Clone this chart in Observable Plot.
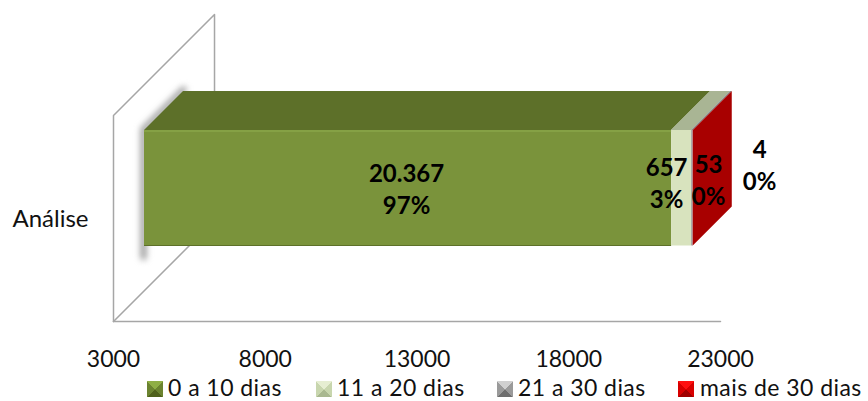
<!DOCTYPE html>
<html><head><meta charset="utf-8">
<script src="https://cdn.jsdelivr.net/npm/d3@7"></script>
<script src="https://cdn.jsdelivr.net/npm/@observablehq/plot@0.6"></script>
<style>
html,body{margin:0;padding:0;background:#fff;overflow:hidden}
body{width:868px;height:401px;font-family:Lato,sans-serif;color:#111}
svg{display:block}
#legend{position:relative;height:26px;font-size:23px;letter-spacing:.45px;line-height:22px}
#legend span.i{position:absolute;top:1px;white-space:nowrap;display:flex;align-items:center}
#legend b{display:inline-block;width:16px;height:16px;flex:none;position:relative;top:2px}
</style></head><body>
<div id="chart"></div><div id="legend"></div>
<script>
const categories = ["0 a 10 dias","11 a 20 dias","21 a 30 dias","mais de 30 dias"];
const values = [20367,657,53,4];
const frontColors = ["#7a933b","#d8e3be","#a8a8a8","#a80000"];
const topColors = ["#5d7029","#a9b594","#808080","#a9b594"];
const swatchDark = ["#4f611c","#a9b890","#6e6e6e","#a00000"];
const swatchMid = ["#6b8330","#c8d6ae","#9a9a9a","#d80000"];
const swatchCore = ["#8fae45","#e6eed2","#d0d0d0","#ff1010"];
const legendLeft = [147,316,497,678];
const legendGap = [5,5,5,6];
const labelLines = [["20.367","97%"],["657","3%"],["53","0%"],["4","0%"]];
const labelCenterX = [406,666,708,759];
const labelCenterY = [187.5,181.5,178.5,163];
const ticks = [3000,8000,13000,18000,23000];
const start = 3000;
const pxPerUnit = 606.9/20000;
const frontDepth = 31, backDepth = 70, wallDepth = 101, wallH = 206;
const barBottom = 44.5, barTop = 160;
const px = (v,d)=>v + d/pxPerUnit;
const up = (h,d)=>h + d;

let acc = 0;
const segs = values.map((v,i)=>{const s={cat:categories[i],x0:Math.max(acc,start),x1:acc+v,i};acc+=v;return s;});
const end = acc;

const wall = [[start,0,0],[start,wallH,0],[start,wallH,wallDepth],[start,0,wallDepth]]
  .map(([x,h,d])=>({x:px(x,d),y:up(h,d)}));
const floorDiag = [0,wallDepth].map(d=>({x:px(start,d),y:up(0,d)}));
const floorLine = [start,23000].map(x=>({x,y:0}));
const shadow = [[start,barBottom-12,frontDepth],[start,barTop,frontDepth],[start,barTop,backDepth+1]]
  .map(([x,h,d])=>({x:px(x,d)-1/pxPerUnit,y:up(h,d)+1}));

const marks = [
  Plot.line(wall,{x:"x",y:"y",stroke:"#a6a6a6",strokeWidth:1.5}),
  Plot.line(floorDiag,{x:"x",y:"y",stroke:"#a6a6a6",strokeWidth:1.5}),
  Plot.line(floorLine,{x:"x",y:"y",stroke:"#a6a6a6",strokeWidth:1.5}),
  Plot.line(shadow,{x:"x",y:"y",stroke:"#999",strokeWidth:6,imageFilter:"blur(3px)"})
];
segs.forEach(s=>{
  marks.push(Plot.areaX([frontDepth,backDepth].map(d=>({d})),{
    y:p=>up(barTop,p.d),x1:p=>px(s.x0,p.d),x2:p=>px(s.x1,p.d),fill:topColors[s.i],curve:"linear"}));
  marks.push(Plot.rect([s],{x1:d=>px(d.x0,frontDepth),x2:d=>px(d.x1,frontDepth),
    y1:up(barBottom,frontDepth),y2:up(barTop,frontDepth),fill:frontColors[s.i]}));
});
marks.push(Plot.areaY([frontDepth,backDepth].map(d=>({d})),{
  x:p=>px(end,p.d),y1:p=>up(barBottom,p.d),y2:p=>up(barTop,p.d),fill:"#a80000",curve:"linear"}));
marks.push(Plot.ruleY([0],{x1:px(start,frontDepth),x2:px(segs[0].x1,frontDepth),y:up(barTop,frontDepth)-0.5,stroke:"#8aa64a",strokeWidth:1.5}));
marks.push(Plot.ruleY([0],{x1:px(start,frontDepth),x2:px(segs[0].x1,frontDepth),y:up(barBottom,frontDepth)+0.5,stroke:"#5d7029",strokeWidth:1}));

marks.push(Plot.axisX({ticks,tickSize:0,tickPadding:29,tickFormat:d=>String(d),fontSize:23,label:null,anchor:"bottom"}));
marks.push(Plot.text(["Análise"],{frameAnchor:"left",dx:-101,y:102,textAnchor:"start",fontSize:24,fill:"#111"}));

segs.forEach(s=>{
  marks.push(Plot.text([labelLines[s.i].join("\n")],{
    x:3000+(labelCenterX[s.i]-113)/pxPerUnit,y:321-labelCenterY[s.i],
    fontSize:24,fontWeight:700,fill:"#000",lineHeight:1.33}));
});

const chart = Plot.plot({
  width:868,height:375,marginLeft:113,marginRight:148,marginTop:15,marginBottom:54,
  style:{fontFamily:"Lato,sans-serif",background:"transparent",color:"#111",overflow:"visible"},
  x:{domain:[3000,23000]},y:{domain:[0,306],axis:null},marks
});
document.getElementById("chart").append(chart);
const lg=document.getElementById("legend");
categories.forEach((c,i)=>{
  const e=document.createElement("span");e.className="i";e.style.left=legendLeft[i]+"px";
  const b=document.createElement("b");b.style.marginRight=legendGap[i]+"px";
  b.style.background=`conic-gradient(from -45deg,${swatchCore[i]} 0 90deg,${swatchMid[i]} 90deg 180deg,${swatchDark[i]} 180deg 270deg,${swatchMid[i]} 270deg 360deg)`;
  e.append(b,document.createTextNode(c));lg.append(e);
});
</script></body></html>
